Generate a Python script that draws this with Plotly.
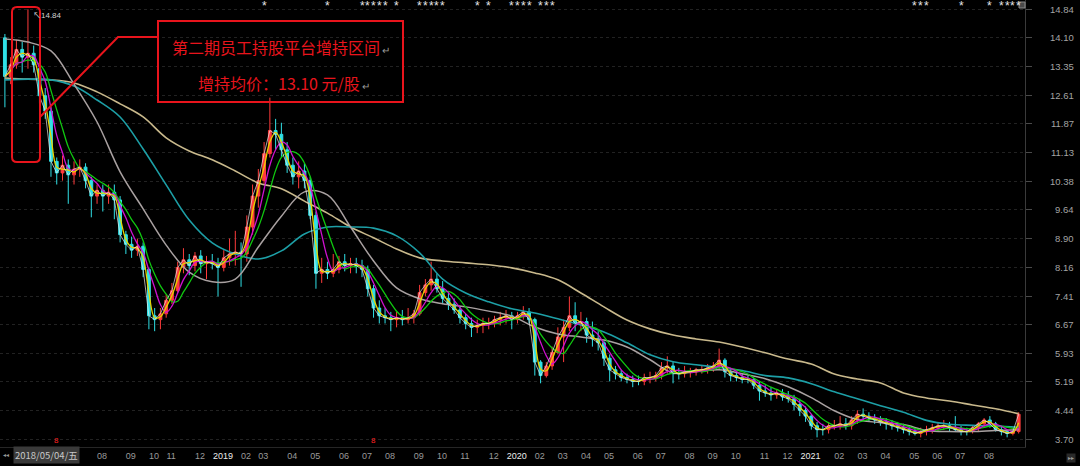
import pandas as pd
import plotly.graph_objects as go

# ---------------- data (weekly candles) ----------------
no_trade_weeks = ["2018-10-05", "2019-02-08", "2020-01-31"]
weeks = [d.strftime("%Y-%m-%d") for d in pd.date_range("2018-04-13", "2021-09-17", freq="W-FRI")
         if d.strftime("%Y-%m-%d") not in no_trade_weeks]

open_ = [14.10, 13.10, 13.40, 13.80, 13.60, 13.70, 13.30, 12.60, 12.20, 10.90,
         10.60, 10.80, 10.55, 10.70, 10.75, 10.40, 10.00, 10.15, 10.00, 10.10,
         9.90, 9.00, 8.75, 8.60, 8.70, 8.10, 6.90, 6.80, 6.95, 7.30,
         7.55, 8.15, 8.35, 8.20, 8.45, 8.25, 8.30, 8.25, 8.15, 8.40,
         8.50, 8.55, 8.50, 9.20, 10.00, 10.40, 11.10, 11.70, 11.60, 11.20,
         10.80, 10.50, 10.65, 10.40, 9.50, 8.00, 8.10, 8.00, 8.10, 8.30,
         8.20, 8.25, 8.20, 8.10, 7.60, 7.10, 6.90, 6.85, 6.80, 6.85,
         6.80, 6.85, 6.95, 7.50, 7.70, 7.85, 7.60, 7.35, 7.20, 7.05,
         6.85, 6.70, 6.60, 6.65, 6.70, 6.70, 6.80, 6.85, 6.90, 6.80,
         6.90, 7.00, 6.80, 5.70, 5.35, 5.60, 5.95, 6.35, 6.60, 6.90,
         6.70, 6.75, 6.40, 6.30, 6.20, 5.80, 5.50, 5.40, 5.30, 5.25,
         5.20, 5.20, 5.30, 5.30, 5.35, 5.55, 5.60, 5.40, 5.40, 5.45,
         5.45, 5.50, 5.50, 5.55, 5.60, 5.75, 5.45, 5.35, 5.30, 5.25,
         5.25, 5.10, 4.95, 4.90, 4.85, 4.90, 4.80, 4.75, 4.60, 4.45,
         4.30, 4.05, 3.95, 3.95, 4.05, 4.05, 4.10, 4.05, 4.20, 4.35,
         4.30, 4.25, 4.20, 4.15, 4.10, 4.05, 4.00, 3.95, 3.90, 3.85,
         3.90, 3.95, 4.00, 4.05, 4.05, 4.00, 3.95, 3.90, 3.90, 4.00,
         4.10, 4.20, 4.10, 3.95, 3.90, 3.85, 3.90]

high = [14.20, 13.60, 14.05, 14.00, 14.84, 13.90, 13.40, 12.80, 12.30, 11.00,
        11.05, 10.95, 10.90, 10.95, 10.85, 10.50, 10.30, 10.30, 10.30, 10.30,
        10.00, 9.10, 8.95, 8.90, 8.80, 8.15, 7.10, 7.10, 7.45, 7.75,
        8.30, 8.65, 8.50, 8.55, 8.60, 8.45, 8.50, 8.40, 8.60, 8.90,
        9.10, 8.80, 9.50, 10.30, 10.70, 11.40, 12.55, 12.00, 11.90, 11.40,
        11.00, 10.90, 10.85, 10.50, 9.60, 8.40, 8.30, 8.50, 8.45, 8.50,
        8.40, 8.40, 8.35, 8.20, 7.70, 7.30, 7.10, 7.00, 7.00, 7.05,
        7.10, 7.05, 7.70, 7.85, 8.30, 8.00, 7.80, 7.50, 7.35, 7.15,
        6.95, 6.85, 6.80, 6.85, 6.85, 6.90, 7.00, 7.05, 7.00, 7.00,
        7.15, 7.10, 6.85, 5.75, 5.70, 6.10, 6.60, 6.80, 7.40, 7.25,
        7.00, 6.85, 6.75, 6.50, 6.25, 5.90, 5.60, 5.50, 5.40, 5.35,
        5.35, 5.40, 5.45, 5.45, 5.70, 5.85, 5.70, 5.55, 5.60, 5.55,
        5.55, 5.60, 5.65, 5.70, 6.05, 5.80, 5.55, 5.45, 5.40, 5.35,
        5.30, 5.20, 5.10, 5.05, 5.00, 5.00, 4.95, 4.85, 4.75, 4.55,
        4.35, 4.15, 4.10, 4.15, 4.20, 4.30, 4.25, 4.30, 4.45, 4.50,
        4.40, 4.35, 4.30, 4.25, 4.20, 4.15, 4.10, 4.05, 4.00, 4.00,
        4.05, 4.10, 4.15, 4.20, 4.15, 4.30, 4.05, 4.00, 4.05, 4.15,
        4.25, 4.30, 4.15, 4.05, 3.95, 3.95, 4.40]

low = [12.30, 12.90, 13.30, 13.20, 13.30, 13.20, 12.40, 12.00, 10.50, 10.30,
       10.40, 9.80, 10.30, 10.50, 10.20, 9.45, 9.80, 9.60, 9.80, 9.40,
       8.80, 8.50, 8.40, 8.45, 7.90, 6.55, 6.50, 6.55, 6.85, 7.20,
       7.50, 8.00, 7.95, 8.05, 8.00, 7.85, 8.10, 7.40, 8.05, 8.20,
       8.20, 7.65, 8.30, 9.00, 9.70, 10.30, 11.00, 11.20, 11.00, 10.60,
       10.30, 10.20, 10.20, 9.40, 7.60, 7.75, 7.85, 7.90, 8.00, 8.05,
       8.00, 8.00, 7.90, 7.40, 6.85, 6.70, 6.70, 6.50, 6.60, 6.65,
       6.70, 6.70, 6.90, 7.40, 7.55, 7.50, 7.20, 7.05, 6.95, 6.70,
       6.55, 6.35, 6.45, 6.45, 6.55, 6.60, 6.65, 6.70, 6.55, 6.70,
       6.80, 6.70, 5.35, 5.15, 5.30, 5.50, 5.90, 5.70, 6.50, 6.50,
       6.50, 6.20, 6.10, 6.00, 5.60, 5.20, 5.25, 5.20, 5.15, 5.05,
       5.10, 5.10, 5.15, 5.20, 5.25, 5.40, 5.15, 5.25, 5.30, 5.30,
       5.35, 5.40, 5.40, 5.45, 5.50, 5.30, 5.20, 5.20, 5.15, 5.15,
       5.00, 4.70, 4.80, 4.70, 4.75, 4.70, 4.65, 4.45, 4.30, 4.15,
       3.95, 3.75, 3.80, 3.85, 3.95, 3.95, 3.95, 3.95, 4.10, 4.20,
       4.15, 4.10, 4.05, 3.95, 3.95, 3.90, 3.85, 3.80, 3.80, 3.75,
       3.80, 3.85, 3.90, 3.95, 3.90, 3.90, 3.80, 3.80, 3.85, 3.90,
       4.00, 4.00, 3.90, 3.80, 3.75, 3.80, 3.85]

close = [13.10, 13.40, 13.80, 13.60, 13.70, 13.40, 12.60, 12.20, 10.90, 10.60,
         10.80, 10.55, 10.70, 10.75, 10.40, 10.00, 10.15, 10.00, 10.10, 9.90,
         9.00, 8.75, 8.60, 8.70, 8.10, 6.90, 6.80, 6.95, 7.30, 7.55,
         8.15, 8.35, 8.20, 8.45, 8.25, 8.30, 8.25, 8.15, 8.40, 8.50,
         8.55, 8.50, 9.20, 10.00, 10.40, 11.10, 11.70, 11.60, 11.20, 10.80,
         10.50, 10.65, 10.40, 9.50, 8.00, 8.10, 8.00, 8.10, 8.30, 8.20,
         8.25, 8.20, 8.10, 7.60, 7.10, 6.90, 6.85, 6.80, 6.85, 6.80,
         6.85, 6.95, 7.50, 7.70, 7.85, 7.60, 7.35, 7.20, 7.05, 6.85,
         6.70, 6.60, 6.65, 6.70, 6.70, 6.80, 6.85, 6.90, 6.80, 6.90,
         7.00, 6.80, 5.70, 5.35, 5.60, 5.95, 6.35, 6.60, 6.90, 6.70,
         6.75, 6.40, 6.30, 6.20, 5.80, 5.50, 5.40, 5.30, 5.25, 5.20,
         5.20, 5.30, 5.30, 5.35, 5.55, 5.60, 5.40, 5.40, 5.45, 5.45,
         5.50, 5.50, 5.55, 5.60, 5.75, 5.45, 5.35, 5.30, 5.25, 5.25,
         5.10, 4.95, 4.90, 4.85, 4.90, 4.80, 4.75, 4.60, 4.45, 4.30,
         4.05, 3.95, 3.95, 4.05, 4.05, 4.10, 4.05, 4.20, 4.35, 4.30,
         4.25, 4.20, 4.15, 4.10, 4.05, 4.00, 3.95, 3.90, 3.85, 3.90,
         3.95, 4.00, 4.05, 4.05, 4.00, 3.95, 3.90, 3.90, 4.00, 4.10,
         4.20, 4.10, 3.95, 3.90, 3.85, 3.90, 4.35]

# long moving averages read every 4th week
ma60 = [14.07, 13.99, 13.76, 12.90, 11.92, 10.63, 9.67, 8.73, 8.03, 7.78,
        7.85, 8.68, 9.48, 10.11, 10.03, 9.20, 8.32, 7.62, 7.34, 7.21,
        7.13, 7.02, 6.89, 6.61, 6.43, 6.35, 6.27, 6.09, 5.76, 5.42,
        5.45, 5.50, 5.40, 5.27, 5.06, 4.78, 4.44, 4.21, 4.13, 4.08,
        3.93, 3.90, 3.90, 3.93, 3.95]
ma120 = [13.01, 13.03, 13.01, 12.85, 12.49, 12.05, 11.22, 10.29, 9.38, 8.79,
         8.50, 8.37, 8.58, 9.02, 9.20, 9.20, 9.17, 8.97, 8.53, 7.85,
         7.49, 7.26, 7.08, 6.97, 6.82, 6.66, 6.48, 6.20, 5.89, 5.71,
         5.63, 5.56, 5.48, 5.35, 5.29, 5.14, 4.93, 4.75, 4.57, 4.40,
         4.19, 4.09, 4.06, 4.04, 4.01]
ma250 = [13.06, 13.03, 13.01, 12.93, 12.70, 12.39, 12.05, 11.51, 11.17, 10.94,
         10.65, 10.34, 10.19, 9.87, 9.56, 9.20, 8.92, 8.63, 8.40, 8.32,
         8.27, 8.22, 8.14, 8.01, 7.83, 7.49, 7.13, 6.79, 6.56, 6.40,
         6.30, 6.22, 6.09, 5.94, 5.78, 5.65, 5.39, 5.26, 5.16, 4.90,
         4.77, 4.69, 4.59, 4.49, 4.36]
ma_dates = weeks[::4]

y_ticks = [14.84, 14.10, 13.35, 12.61, 11.87, 11.13, 10.38, 9.64,
           8.90, 8.16, 7.41, 6.67, 5.93, 5.19, 4.44, 3.70]
first_date_label = "2018/05/04/五"
callout_title = "第二期员工持股平台增持区间"
avg_price = 13.10
event_dates = ["2019-03-08", "2019-05-24", "2019-07-05", "2019-07-12", "2019-07-19", "2019-07-26",
               "2019-08-02", "2019-08-16", "2019-09-13", "2019-09-20", "2019-09-27", "2019-10-04",
               "2019-10-11", "2019-11-22", "2019-12-06", "2020-01-03", "2020-01-10", "2020-01-17",
               "2020-01-24", "2020-02-14", "2020-02-21", "2020-02-28", "2021-05-14", "2021-05-21",
               "2021-05-28", "2021-07-09", "2021-08-13", "2021-08-27", "2021-09-03", "2021-09-10",
               "2021-09-17"]
flag_dates = ["2018-06-15", "2019-07-19"]

# ---------------- styling ----------------
UP, DN = "#ff3b3b", "#30e0e6"
PW, PH = 1025, 447           # plot area size in px
FONT = "Liberation Sans, Noto Sans CJK SC, sans-serif"
CJK = "Noto Sans CJK SC, sans-serif"

s = pd.Series(close)
ma5 = s
ma10 = s.rolling(2, min_periods=1).mean()
ma20 = s.rolling(4, min_periods=1).mean()
ma30 = s.rolling(6, min_periods=1).mean()

fig = go.Figure()
fig.add_trace(go.Candlestick(
    x=weeks, open=open_, high=high, low=low, close=close,
    increasing=dict(line=dict(color=UP, width=1), fillcolor=UP),
    decreasing=dict(line=dict(color=DN, width=1), fillcolor=DN),
    whiskerwidth=0, showlegend=False, hoverinfo="skip"))

for xs, ys, col, w, shp, op in [
        (ma_dates, ma250, "#c9b98c", 1.6, "spline", 1.0),
        (ma_dates, ma120, "#1d9fa6", 1.6, "spline", 1.0),
        (ma_dates, ma60, "#a9a1a1", 1.5, "spline", 1.0),
        (weeks, ma30, "#10c810", 1.3, "spline", 1.0),
        (weeks, ma20, "#d010d0", 1.3, "spline", 1.0),
        (weeks, ma10, "#e8d400", 1.3, "spline", 1.0),
        (weeks, ma5, "#ececec", 1.0, "linear", 0.7)]:
    fig.add_trace(go.Scatter(x=xs, y=list(ys), mode="lines", opacity=op,
                             line=dict(color=col, width=w, shape=shp),
                             showlegend=False, hoverinfo="skip"))

# month ticks (the last, partly drawn month is not labelled)
tickvals, ticktext, prev = [], [], None
for w in weeks:
    ym = w[:7]
    if ym != prev and "2018-08" <= w < "2021-09":
        tickvals.append(w)
        ticktext.append(f"<span style='color:#ececec'>{w[:4]}</span>" if w[5:7] == "01" else w[5:7])
    prev = ym


def px(x):
    return x / PW


def py(y):
    return (PH - y) / PH


def pt(x, y):
    return f"{px(x):.5f},{py(y):.5f}"


def rounded(x0, y0, x1, y1, r):
    return (f"M {pt(x0 + r, y0)} L {pt(x1 - r, y0)} Q {pt(x1, y0)} {pt(x1, y0 + r)} "
            f"L {pt(x1, y1 - r)} Q {pt(x1, y1)} {pt(x1 - r, y1)} L {pt(x0 + r, y1)} "
            f"Q {pt(x0, y1)} {pt(x0, y1 - r)} L {pt(x0, y0 + r)} Q {pt(x0, y0)} {pt(x0 + r, y0)} Z")


RED = "#e8141c"
shapes = [
    dict(type="path", xref="paper", yref="paper", path=rounded(12, 7, 40, 162, 5),
         line=dict(color=RED, width=2)),
    dict(type="path", xref="paper", yref="paper",
         path=f"M {pt(40, 117)} L {pt(118, 37)} L {pt(158, 37)}", line=dict(color=RED, width=2)),
    dict(type="rect", xref="paper", yref="paper", x0=px(158), x1=px(403), y0=py(102), y1=py(21),
         line=dict(color=RED, width=2), fillcolor="rgba(0,0,0,0)"),
    dict(type="rect", xref="paper", yref="paper", x0=px(1019), x1=px(1025), y0=py(8), y1=py(2),
         line=dict(color="#8a8a8a", width=1), fillcolor="#4a4a4a"),
]

ann = []
ret = "<span style='color:#9a9a9a;font-size:10px'> ↵</span>"
ann.append(dict(xref="paper", yref="paper", x=px(281), y=py(47), text=callout_title + ret,
                showarrow=False, font=dict(family=CJK, size=16, color=RED), xanchor="center", yanchor="middle"))
ann.append(dict(xref="paper", yref="paper", x=px(284), y=py(83), text=f"增持均价：{avg_price:.2f} 元/股" + ret,
                showarrow=False, font=dict(family=CJK, size=16, color=RED), xanchor="center", yanchor="middle"))
# highest price marker
imax = max(range(len(high)), key=lambda k: high[k])
ann.append(dict(x=weeks[imax], y=high[imax], xref="x", yref="y", text=f"↖{high[imax]:.2f}",
                showarrow=False, xanchor="left", yanchor="middle", xshift=3, yshift=-6,
                font=dict(family=FONT, size=8, color="#d0d0d0")))
# right-aligned price labels
for v in y_ticks:
    ann.append(dict(xref="paper", yref="y", x=px(1076), y=v, text=f"{v:.2f}", showarrow=False,
                    xanchor="right", yanchor="middle", font=dict(family=FONT, size=9.5, color="#a4a4a4")))
# first date box and scroll glyphs
ann.append(dict(xref="paper", yref="paper", x=px(13), y=py(455), text=first_date_label, showarrow=False,
                xanchor="left", yanchor="middle", bgcolor="#3a3a3a", borderpad=1,
                font=dict(family=CJK, size=9.5, color="#c8c8c8")))
ann.append(dict(xref="paper", yref="paper", x=px(6), y=py(455), text="◂◂", showarrow=False,
                xanchor="center", yanchor="middle", font=dict(family=FONT, size=6, color="#9a9a9a")))
ann.append(dict(xref="paper", yref="paper", x=px(1071), y=py(458), text="▸▸", showarrow=False,
                xanchor="center", yanchor="middle", bgcolor="#2a2a2a",
                font=dict(family=FONT, size=6, color="#9a9a9a")))
# event markers along the top
for d in event_dates:
    ann.append(dict(x=d, xref="x", yref="paper", y=py(6), text="*", showarrow=False,
                    xanchor="center", yanchor="middle", font=dict(family=FONT, size=12, color="#e6e6e6")))
for d in flag_dates:
    ann.append(dict(x=d, xref="x", yref="paper", y=py(440), text="8", showarrow=False,
                    xanchor="center", yanchor="middle", font=dict(family=FONT, size=8, color="#ff2020")))

fig.update_layout(
    width=1080, height=466,
    margin=dict(l=0, r=1080 - PW, t=0, b=466 - PH),
    paper_bgcolor="#000000", plot_bgcolor="#000000",
    hovermode=False, showlegend=False,
    shapes=shapes, annotations=ann,
    xaxis=dict(type="category", range=[-0.85, 177.1], rangeslider=dict(visible=False),
               tickvals=tickvals, ticktext=ticktext, ticks="", showgrid=False,
               showline=True, linecolor="#262626", zeroline=False, ticklabelshift=5,
               tickfont=dict(family=FONT, size=9, color="#9a9a9a")),
    yaxis=dict(side="right", range=[3.50, 15.08], tickvals=y_ticks, showticklabels=False,
               showgrid=True, gridcolor="#222222", griddash="dot", gridwidth=1,
               ticks="outside", ticklen=6, tickcolor="#4a4a4a",
               showline=True, linecolor="#3a3a3a", zeroline=False),
)

fig.write_html("out.html", config={"displayModeBar": False},
               post_script="document.body.style.margin='0';document.body.style.overflow='hidden';")
